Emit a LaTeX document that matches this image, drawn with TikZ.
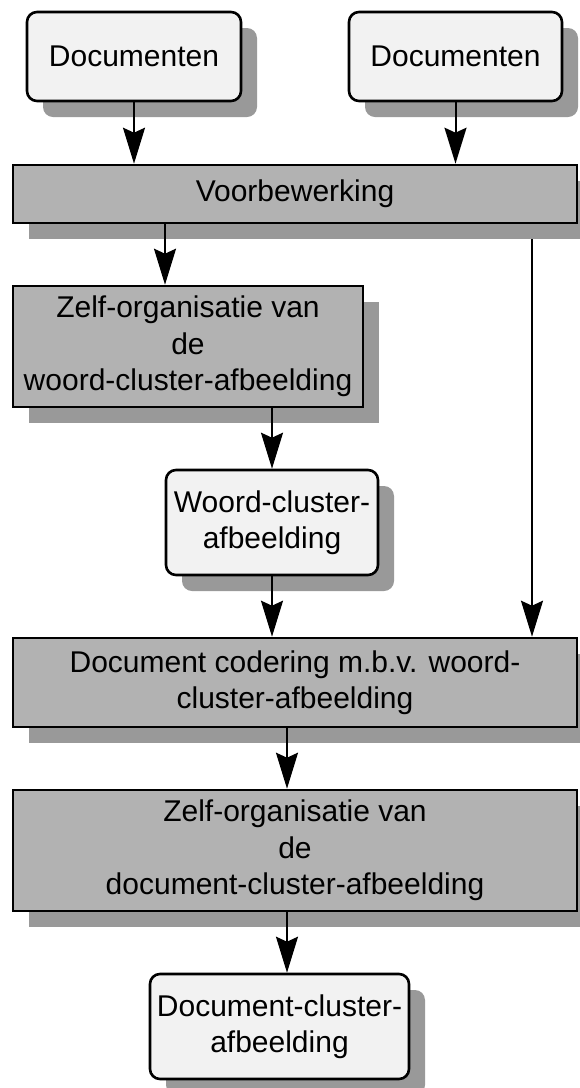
\documentclass[tikz,border=0pt]{standalone}
\usepackage{fontspec}
\setmainfont{Liberation Sans}
\usetikzlibrary{arrows.meta,shadows,backgrounds}
\definecolor{softfill}{gray}{0.95}
\definecolor{procfill}{gray}{0.70}
\definecolor{shadowfill}{gray}{0.60}
\tikzset{
  box/.style={draw=black, line width=2.6pt, align=center, inner sep=0pt,
    font=\fontsize{30}{36.5}\selectfont,
    general shadow={fill=shadowfill, shadow xshift=16pt, shadow yshift=-16pt}},
  softbox/.style={box, fill=softfill, rounded corners=10pt},
  procbox/.style={box, fill=procfill},
  arr/.style={draw=black, line width=2pt,
    -{Stealth[length=36pt, width=22pt, inset=5pt]}}
}
\begin{document}
\begin{tikzpicture}[x=1pt, y=-1pt]
\useasboundingbox (0,0) rectangle (580,1088);
\clip (0,0) rectangle (580,1088);

% entry points of the off-centre connectors
\coordinate (k1) at (165,0);
\coordinate (k2) at (532,0);
\coordinate (k3) at (287,0);

% inputs
\node[softbox, minimum width=214pt, minimum height=89pt] (D1) at (134,56.5) {Documenten};
\node[softbox, minimum width=213pt, minimum height=89pt] (D2) at (455.5,56.5) {Documenten};

% processing chain
\node[procbox, minimum width=564pt, minimum height=58pt] (V) at (295,194) {Voorbewerking};
\node[procbox, minimum width=350pt, minimum height=121pt] (Z1) at (188,346.5)
  {Zelf-organisatie van\\de\\woord-cluster-afbeelding};
\node[softbox, minimum width=212pt, minimum height=105pt] (W) at (272,522.5)
  {Woord-cluster-\\afbeelding};
\node[procbox, minimum width=564pt, minimum height=89pt] (C) at (295,682.5)
  {Document codering m.b.v. woord-\\cluster-afbeelding};
\node[procbox, minimum width=564pt, minimum height=121pt] (Z2) at (295,850.5)
  {Zelf-organisatie van\\de\\document-cluster-afbeelding};
\node[softbox, minimum width=259pt, minimum height=105pt] (DC) at (279.5,1026.5)
  {Document-cluster-\\afbeelding};

% connectors
\draw[arr] (D1.south) -- (D1.south |- V.north);
\draw[arr] (D2.south) -- (D2.south |- V.north);
\draw[arr] (V.south -| k1) -- (Z1.north -| k1);
\draw[arr] (Z1.south -| W.north) -- (W.north);
\draw[arr] (W.south) -- (W.south |- C.north);
\begin{pgfonlayer}{background}
\draw[arr] (V.south -| k2) -- (C.north -| k2);
\end{pgfonlayer}
\draw[arr] (C.south -| k3) -- (Z2.north -| k3);
\draw[arr] (Z2.south -| k3) -- (DC.north -| k3);
\end{tikzpicture}
\end{document}
